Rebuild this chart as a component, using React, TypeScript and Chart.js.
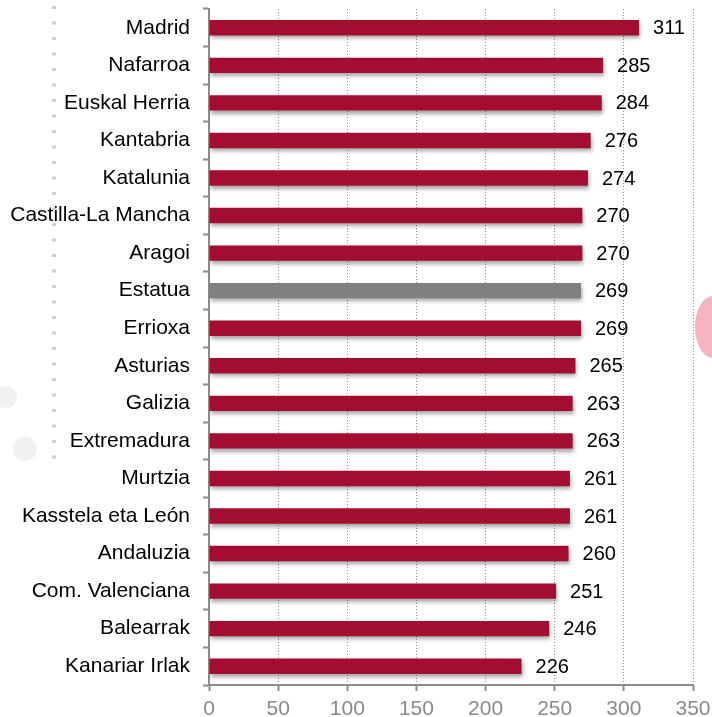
import React, { useEffect, useRef } from "react";
import { Chart, registerables } from "chart.js";

Chart.register(...registerables);

const categories = [
  "Madrid",
  "Nafarroa",
  "Euskal Herria",
  "Kantabria",
  "Katalunia",
  "Castilla-La Mancha",
  "Aragoi",
  "Estatua",
  "Errioxa",
  "Asturias",
  "Galizia",
  "Extremadura",
  "Murtzia",
  "Kasstela eta León",
  "Andaluzia",
  "Com. Valenciana",
  "Balearrak",
  "Kanariar Irlak",
];

const values = [311, 285, 284, 276, 274, 270, 270, 269, 269, 265, 263, 263, 261, 261, 260, 251, 246, 226];

const highlightCategory = "Estatua";

const xTicks = [0, 50, 100, 150, 200, 250, 300, 350];

const FONT = '"Liberation Sans", Arial, Helvetica, sans-serif';
const RED = "#a30d2f";
const GRAY = "#808080";

const decorPlugin = {
  id: "decor",
  beforeDraw(chart: any) {
    const ctx = chart.ctx;
    ctx.save();
    ctx.fillStyle = "#ffffff";
    ctx.fillRect(0, 0, chart.width, chart.height);
    // faint pink blob at right edge
    ctx.fillStyle = "rgba(240,150,165,0.7)";
    ctx.beginPath();
    ctx.ellipse(713, 327, 18, 31, 0, 0, Math.PI * 2);
    ctx.fill();
    // faint gray circles on left
    ctx.fillStyle = "rgba(232,232,232,0.6)";
    ctx.beginPath();
    ctx.arc(6, 397, 11, 0, Math.PI * 2);
    ctx.fill();
    ctx.beginPath();
    ctx.arc(25, 449, 12, 0, Math.PI * 2);
    ctx.fill();
    // faint dotted column
    ctx.fillStyle = "rgba(175,175,175,0.6)";
    for (let y = 6; y < 465; y += 15.5) {
      ctx.fillRect(52, y, 4, 3);
    }
    ctx.restore();
  },
};

const barStylePlugin = {
  id: "barStyle",
  beforeDatasetsDraw(chart: any) {
    const ctx = chart.ctx;
    ctx.save();
    ctx.shadowColor = "rgba(0,0,0,0.35)";
    ctx.shadowBlur = 4;
    ctx.shadowOffsetX = 1;
    ctx.shadowOffsetY = 3;
  },
  afterDatasetsDraw(chart: any) {
    const ctx = chart.ctx;
    ctx.restore();
    ctx.save();
    ctx.font = `20px ${FONT}`;
    ctx.fillStyle = "#000000";
    ctx.textAlign = "left";
    ctx.textBaseline = "middle";
    const meta = chart.getDatasetMeta(0);
    meta.data.forEach((bar: any, i: number) => {
      const v = chart.data.datasets[0].data[i];
      ctx.fillText(String(v), bar.x + 14, bar.y + 1);
    });
    ctx.restore();
  },
};

export default function App() {
  const canvasRef = useRef<HTMLCanvasElement | null>(null);

  useEffect(() => {
    if (!canvasRef.current) return;
    const colors = categories.map((c) => (c === highlightCategory ? GRAY : RED));
    const chart = new Chart(canvasRef.current, {
      type: "bar",
      data: {
        labels: categories,
        datasets: [
          {
            data: values,
            backgroundColor: colors,
            borderWidth: 0,
            barPercentage: 0.41,
            categoryPercentage: 1,
          },
        ],
      },
      plugins: [decorPlugin, barStylePlugin],
      options: {
        indexAxis: "y",
        animation: false,
        responsive: false,
        maintainAspectRatio: false,
        devicePixelRatio: 1,
        layout: { padding: { left: 0, right: 19, top: 9, bottom: 0 } },
        plugins: {
          legend: { display: false },
          tooltip: { enabled: false },
          title: { display: false },
        },
        scales: {
          x: {
            type: "linear",
            min: 0,
            max: 350,
            afterBuildTicks(scale: any) {
              scale.ticks = xTicks.map((v) => ({ value: v }));
            },
            afterFit(scale: any) {
              scale.height = 32;
              scale.paddingLeft = 0;
              scale.paddingRight = 0;
            },
            grid: {
              display: true,
              drawOnChartArea: true,
              drawTicks: true,
              color: (ctx: any) => (ctx.tick && ctx.tick.value === 0 ? "rgba(0,0,0,0)" : "#8f8f8f"),
              lineWidth: 1,
              tickLength: 6,
              tickColor: "#8c8c8c",
              tickWidth: 2,
            },
            border: { display: true, color: "#8c8c8c", width: 2, dash: [1, 2] },
            ticks: {
              color: "#8a8a8a",
              padding: 6,
              font: { family: FONT, size: 21 },
            },
          },
          y: {
            type: "category",
            afterFit(scale: any) {
              scale.width = 209;
              scale.paddingTop = 0;
              scale.paddingBottom = 0;
            },
            grid: {
              display: true,
              drawOnChartArea: false,
              drawTicks: true,
              tickLength: 6,
              color: "#8c8c8c",
              tickColor: "#8c8c8c",
              tickWidth: 2,
              offset: true,
            },
            border: { display: true, color: "#8c8c8c", width: 2 },
            ticks: {
              color: "#000000",
              padding: 13,
              font: { family: FONT, size: 21 },
              autoSkip: false,
            },
          },
        },
      } as any,
    });
    return () => chart.destroy();
  }, []);

  return (
    <div style={{ position: "fixed", left: 0, top: 0, width: 712, height: 717, background: "#fff" }}>
      <canvas ref={canvasRef} width={712} height={717} style={{ display: "block", width: 712, height: 717 }} />
    </div>
  );
}
